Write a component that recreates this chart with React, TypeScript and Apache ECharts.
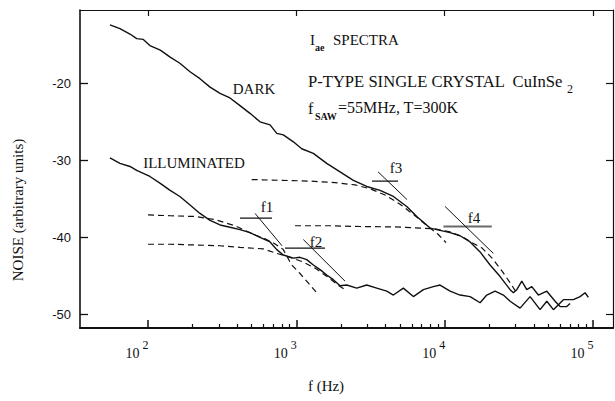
import React, { useEffect, useRef } from 'react';
import * as echarts from 'echarts';

// ---- axis ranges / ticks ----
const X_MIN = 34.8;
const X_MAX = 136400;
const Y_MIN = -51.78;
const Y_MAX = -10.48;
const decadeTicks = [100, 1000, 10000, 100000];
const minorTicks = [
  200, 300, 400, 500, 600, 700, 800, 900,
  2000, 3000, 4000, 5000, 6000, 7000, 8000, 9000,
  20000, 30000, 40000, 50000, 60000, 70000, 80000, 90000,
];
const yTicks = [-50, -40, -30, -20];

// ---- measured spectra [f (Hz), noise] ----
const darkSpectrum: [number, number][] = [
  [55.4, -12.4], [64.7, -12.9], [75.6, -13.6], [83.9, -14.2], [93, -14.3], [103, -15.1],
  [121, -15.7], [141, -16.6], [164, -17.4], [192, -18.5], [224, -19.4], [262, -20.5],
  [306, -21.3], [357, -21.9], [417, -22.9], [487, -23.9], [569, -25.0], [665, -25.4],
  [738, -26.5], [817, -26.7], [955, -27.6], [1087, -28.5], [1302, -29.1], [1603, -30.4],
  [1971, -31.5], [2423, -32.6], [2983, -33.4], [3668, -33.9], [4510, -34.7], [5552, -36.0],
  [6485, -37.3], [7973, -38.8], [9311, -39.1], [10875, -39.4], [12700, -39.8], [14840, -40.6],
  [17330, -41.9], [20240, -43.6], [23640, -45.1], [27610, -46.8], [29060, -47.2], [30640, -46.8],
  [33110, -45.7], [35780, -46.8], [38660, -46.4], [42830, -47.5], [48820, -47.0], [55520, -48.3],
  [60010, -49.0], [66570, -49.0], [70000, -48.6],
];

const illuminatedSpectrum: [number, number][] = [
  [55.4, -29.7], [64.7, -30.4], [75.6, -30.8], [83.9, -31.3], [103, -32.1], [121, -33.0],
  [141, -33.9], [164, -34.7], [192, -35.8], [224, -36.9], [262, -37.8], [306, -38.4],
  [357, -38.7], [417, -39.0], [487, -39.4], [569, -40.0], [665, -40.6], [738, -41.6],
  [817, -42.3], [955, -42.7], [1059, -42.6], [1175, -42.9], [1302, -43.6], [1445, -44.2],
  [1603, -44.9], [1776, -45.5], [1971, -46.3], [2186, -46.2], [2554, -46.6], [2983, -46.2],
  [3485, -46.6], [4070, -47.0], [4510, -47.5], [5266, -46.6], [6152, -47.7], [7186, -46.8],
  [8390, -46.4], [9311, -46.2], [10875, -47.0], [12700, -47.5], [14840, -47.7], [17330, -48.5],
  [19220, -47.5], [21870, -47.0], [24880, -47.5], [27610, -48.3], [32240, -49.2], [37660, -47.7],
  [43980, -49.4], [48820, -48.3], [54080, -49.4], [63150, -48.1], [73760, -48.1], [81850, -47.7],
  [88440, -47.2], [93110, -47.8],
];

// ---- Lorentzian fits (dashed) ----
const fitF1: [number, number][] = [
  [100, -37.1], [141, -37.2], [208, -37.3], [283, -37.7], [386, -38.5], [527, -39.7],
  [615, -40.2], [697, -40.7], [817, -41.6], [931, -43.6], [1059, -44.7], [1199, -45.9], [1373, -47.2],
];
const fitF2: [number, number][] = [
  [100, -40.9], [141, -40.9], [208, -41.0], [306, -41.1], [417, -41.3], [597, -41.5],
  [741, -42.1], [907, -42.6], [1110, -43.2], [1337, -44.0], [1611, -45.1], [1911, -46.2], [2130, -46.8],
];
const fitF3: [number, number][] = [
  [500, -32.5], [776, -32.6], [1237, -32.7], [1824, -32.9], [2488, -33.2], [3141, -33.7],
  [3964, -34.5], [5003, -35.7], [6316, -37.2], [7727, -38.6], [9028, -39.6], [10220, -40.7],
];
const fitF4: [number, number][] = [
  [980, -38.5], [1687, -38.5], [2689, -38.6], [4630, -38.65], [6827, -38.8], [8615, -38.9],
  [10875, -39.3], [13100, -39.9], [15300, -40.7], [17870, -41.4], [20870, -42.7], [24390, -44.4],
  [27610, -45.9], [30300, -47.1],
];

// ---- corner-frequency construction lines ----
const f1Level: [number, number][] = [[417, -37.5], [686, -37.5]];
const f1Slope: [number, number][] = [[527, -36.9], [801, -41.1]];
const f2Level: [number, number][] = [[839, -41.4], [1561, -41.4]];
const f2Slope: [number, number][] = [[1115, -40.3], [2130, -45.7]];
const f3Level: [number, number][] = [[3239, -32.7], [4851, -32.7]];
const f3Slope: [number, number][] = [[3555, -31.5], [5578, -35.1]];
const f4Level: [number, number][] = [[9802, -38.6], [20780, -38.6]];
const f4Slope: [number, number][] = [[10060, -36.0], [21300, -42.1]];

const INK = '#111';
const SERIF = '"Liberation Serif", "Times New Roman", serif';
const SANS = '"Liberation Sans", Arial, sans-serif';

function lineSeries(name: string, data: [number, number][], opts: any = {}) {
  return {
    type: 'line',
    name,
    data,
    xAxisIndex: 0,
    yAxisIndex: 0,
    symbol: 'none',
    silent: true,
    lineStyle: { color: opts.color || INK, width: opts.width || 1.3, type: opts.dash ? [6, 4] : 'solid' },
    z: opts.z || 2,
  };
}

function txt(text: string, x: number, y: number, size: number, extra: any = {}) {
  return {
    type: 'text',
    x,
    y,
    rotation: extra.rotation || 0,
    style: {
      text,
      fontSize: size,
      fontFamily: extra.family || SERIF,
      fontWeight: extra.weight || 'normal',
      fill: INK,
      align: extra.align || 'left',
      verticalAlign: 'middle',
    },
  };
}

export default function App() {
  const ref = useRef<HTMLDivElement>(null);
  useEffect(() => {
    const chart = echarts.init(ref.current!, null, { renderer: 'svg' });
    const option: any = {
      animation: false,
      backgroundColor: '#fff',
      grid: { left: 80, top: 10, right: 2, bottom: 73, containLabel: false },
      xAxis: [
        {
          type: 'log', logBase: 10, min: X_MIN, max: X_MAX, position: 'bottom',
          axisLine: { show: true, lineStyle: { color: INK, width: 2 } },
          axisTick: { show: true, inside: true, length: 8, customValues: decadeTicks, lineStyle: { color: INK, width: 1.5 } },
          axisLabel: {
            show: true, customValues: decadeTicks, margin: 11, color: INK,
            formatter: (v: number) => `{b|10}{s|${Math.round(Math.log10(v))}}`,
            rich: {
              b: { fontSize: 14, fontFamily: SERIF, color: INK },
              s: { fontSize: 12, fontFamily: SERIF, color: INK, padding: [0, 22, 16, 3] },
            },
          },
          splitLine: { show: false }, minorTick: { show: false }, minorSplitLine: { show: false },
        },
        {
          type: 'log', logBase: 10, min: X_MIN, max: X_MAX, position: 'top',
          axisLine: { show: true, lineStyle: { color: INK, width: 1.2 } },
          axisTick: { show: true, inside: true, length: 6, customValues: decadeTicks, lineStyle: { color: INK, width: 1.2 } },
          axisLabel: { show: false },
          splitLine: { show: false },
        },
        {
          type: 'log', logBase: 10, min: X_MIN, max: X_MAX, position: 'bottom',
          axisLine: { show: false },
          axisTick: { show: true, inside: true, length: 4, customValues: minorTicks, lineStyle: { color: INK, width: 1.2 } },
          axisLabel: { show: false },
          splitLine: { show: false },
        },
      ],
      yAxis: [
        {
          type: 'value', min: Y_MIN, max: Y_MAX, position: 'left',
          axisLine: { show: true, lineStyle: { color: INK, width: 1.6 } },
          axisTick: { show: true, inside: true, length: 8, customValues: yTicks, lineStyle: { color: INK, width: 1.3 } },
          axisLabel: { show: true, customValues: yTicks, fontFamily: SANS, fontSize: 13, color: INK, margin: 9 },
          splitLine: { show: false },
        },
        {
          type: 'value', min: Y_MIN, max: Y_MAX, position: 'right',
          axisLine: { show: true, lineStyle: { color: INK, width: 1.2 } },
          axisTick: { show: true, inside: true, length: 7, customValues: yTicks, lineStyle: { color: INK, width: 1.2 } },
          axisLabel: { show: false },
          splitLine: { show: false },
        },
      ],
      series: [
        lineSeries('fitF1', fitF1, { dash: true, width: 1.2 }),
        lineSeries('fitF2', fitF2, { dash: true, width: 1.2 }),
        lineSeries('fitF3', fitF3, { dash: true, width: 1.2 }),
        lineSeries('fitF4', fitF4, { dash: true, width: 1.2 }),
        lineSeries('DARK', darkSpectrum, { width: 1.4, z: 3 }),
        lineSeries('ILLUMINATED', illuminatedSpectrum, { width: 1.4, z: 3 }),
        lineSeries('f1Level', f1Level, { width: 1.2 }),
        lineSeries('f1Slope', f1Slope, { width: 1 }),
        lineSeries('f2Level', f2Level, { width: 1.4 }),
        lineSeries('f2Slope', f2Slope, { width: 1 }),
        lineSeries('f3Level', f3Level, { width: 1.2 }),
        lineSeries('f3Slope', f3Slope, { width: 1 }),
        lineSeries('f4Level', f4Level, { width: 2, color: '#6a6a6a' }),
        lineSeries('f4Slope', f4Slope, { width: 1 }),
      ],
      graphic: [
        txt('DARK', 254, 89, 15, { align: 'center' }),
        txt('ILLUMINATED', 194, 163, 15, { align: 'center' }),
        txt('I', 310, 40, 15),
        txt('ae', 315, 47, 10, { weight: 'bold' }),
        txt('SPECTRA', 333, 40, 15),
        txt('P-TYPE SINGLE CRYSTAL  CuInSe', 308, 81, 16.6),
        txt('2', 567, 89, 12),
        txt('f', 308, 108, 16),
        txt('SAW', 315, 116, 10, { weight: 'bold' }),
        txt('=55MHz, T=300K', 338, 107, 16),
        txt('f1', 267, 207, 15, { align: 'center' }),
        txt('f2', 316, 242, 15, { align: 'center' }),
        txt('f3', 396, 168, 15, { align: 'center' }),
        txt('f4', 474, 218, 15, { align: 'center' }),
        txt('NOISE (arbitrary units)', 18, 210, 15, { align: 'center', rotation: Math.PI / 2 }),
        txt('f (Hz)', 326, 386, 15, { align: 'center' }),
      ],
    };
    chart.setOption(option);
    return () => chart.dispose();
  }, []);
  return (
    <div
      ref={ref}
      style={{ position: 'absolute', left: 0, top: 0, width: 615, height: 401, background: '#fff' }}
    />
  );
}
